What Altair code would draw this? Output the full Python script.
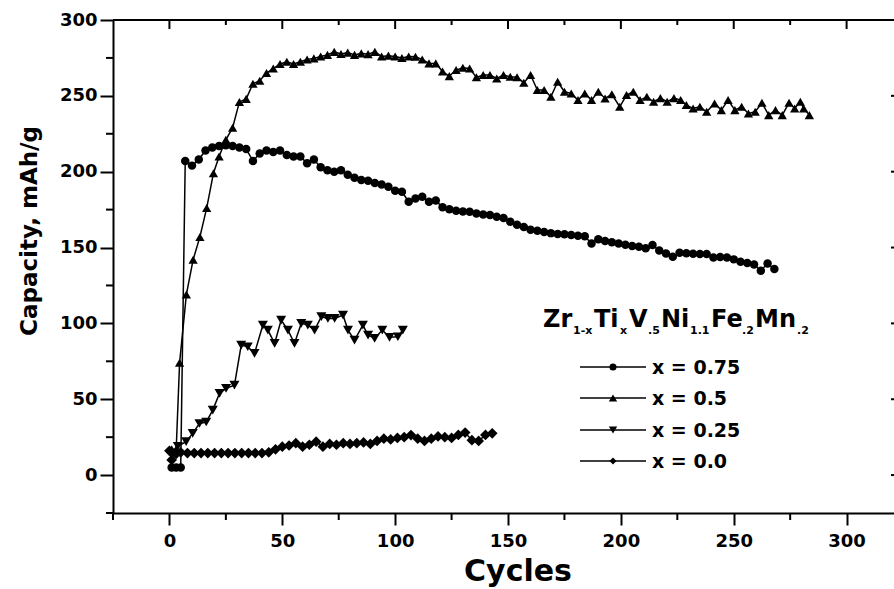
import altair as alt
import pandas as pd

# ---------------- data ----------------
series_names = ["x = 0.75", "x = 0.5", "x = 0.25", "x = 0.0"]
series_shapes = ["circle", "triangle-up", "triangle-down", "diamond"]

cyc_075 = [1, 3, 5, 7, 10, 13, 16, 19, 22, 25, 28, 31, 34, 37, 40, 43, 46, 49, 52, 55,
           58, 61, 64, 67, 70, 73, 76, 79, 82, 85, 88, 91, 94, 97, 100, 103, 106, 109, 112, 115,
           118, 121, 124, 127, 130, 133, 136, 139, 142, 145, 148, 151, 154, 157, 160, 163, 166, 169, 172, 175,
           178, 181, 184, 187, 190, 193, 196, 199, 202, 205, 208, 211, 214, 217, 220, 223, 226, 229, 232, 235,
           238, 241, 244, 247, 250, 253, 256, 259, 262, 265, 268]
cap_075 = [5, 5, 5, 207, 204, 208, 214, 216, 217, 217.5,
           217, 216, 215, 207, 212, 214, 213, 214, 211, 210,
           210, 205.5, 208, 203, 201, 200, 201, 198, 196, 194.5,
           194, 192.5, 191.5, 190, 187.5, 186.8, 180.2, 182.4, 183.5, 180.2,
           181, 176.5, 175.2, 174.3, 173.8, 173.6, 172.5, 171.8, 171.4, 170.3,
           169.5, 167, 165, 163.5, 161.8, 161, 160.3, 159.5, 159, 158.7,
           158.3, 157.8, 157.5, 152.7, 155.4, 154.3, 153.5, 152.7, 151.8, 151,
           150.5, 149.5, 151.6, 148, 146, 144, 146.5, 146.2, 145.9, 145.7,
           145.7, 143.5, 143.8, 143.5, 142.2, 140.6, 139.8, 138.8, 134.7, 139.5, 135.8]

cyc_05 = [1, 3, 4.5, 7.5, 10.5, 13.5, 16.5, 19.5, 22, 25,
          28, 31, 34, 37, 40, 43, 46, 49, 52, 55,
          58, 61, 64, 67, 70, 73, 76, 79, 82, 85,
          88, 91, 94, 97, 100, 103, 106, 109, 112, 115,
          118, 121, 124, 127, 130, 133, 136, 139, 142, 145,
          148, 151, 154, 157, 160, 163, 166, 169, 172, 175,
          178, 181, 184, 187, 190, 193, 196, 199.5, 202.5, 205.5,
          208.5, 211.5, 214.5, 217.5, 220.5, 223.5, 226.5, 229, 232, 235,
          238, 241.5, 244.5, 247.5, 250.5, 253.5, 256.5, 259.5, 262.5, 265.5,
          268.5, 271.5, 274.5, 277, 279.5, 281, 283.5]
cap_05 = [17, 17, 74, 119, 142, 157, 176, 199, 210, 221,
          229, 246, 248, 258, 260, 265, 268, 271, 272.5, 271,
          272.5, 274, 274.7, 276, 277, 279, 277.6, 278.5, 277, 278,
          277.5, 279, 276, 276.5, 276, 275, 276, 275.8, 274, 271.4,
          271.4, 266, 263, 267, 268.5, 268, 262.2, 263.7, 263.7, 261.5,
          263.7, 262.6, 262.2, 258.7, 263.7, 253.8, 253.8, 249.4, 259.3, 252.7,
          251.6, 247.2, 251.6, 247.2, 252.7, 248.3, 251, 242.8, 250.5, 252.7,
          247.2, 249.4, 246.1, 248.5, 246.1, 248.5, 247.2, 243.9, 241.7, 242.8,
          239.5, 245, 240.6, 247.2, 240.6, 242.8, 238.4, 239.5, 245.4, 237.3,
          240.6, 237.3, 245.4, 241.7, 246.1, 241.7, 237.3]

cyc_025 = [1, 3.7, 7.4, 10.3, 13.3, 16.3, 19.2, 22.2, 25.1, 28.8,
           31.8, 34.7, 37.7, 41.4, 43.6, 46.6, 49.5, 52.5, 55.4, 58.4,
           61.3, 64.3, 67.3, 70.2, 73.2, 76.9, 79.1, 82, 85.7, 88,
           90.9, 94.3, 97.5, 101.2, 103.4]
cap_025 = [14, 19, 22, 27.5, 34, 35, 42.8, 53.9, 57.2, 59.3,
           85.7, 84.6, 80.2, 98.9, 95.6, 86.8, 102.2, 95.6, 86.8, 100,
           98.9, 95.6, 104.4, 103.3, 103.3, 105.5, 95.6, 89, 98.9, 92.3,
           90.1, 95.6, 90.8, 91.2, 95.6]

cyc_00 = [0, 1, 3, 5, 8, 11, 14, 17, 20, 23,
          26, 29, 32, 35, 38, 41, 44, 47, 50, 53,
          56, 59, 62, 65, 68, 71, 74, 77, 80, 83,
          86, 89, 92, 95, 98, 101, 104, 107, 110, 113,
          116, 119, 122, 125, 128, 131, 134, 137, 140, 143]
cap_00 = [16, 10, 14, 15, 14.5, 14.5, 14.5, 14.5, 14.5, 14.5,
          14.5, 14.5, 14.5, 14.5, 14.5, 14.5, 15, 17, 18.7, 19.5,
          21, 18.7, 20, 22, 18.7, 20.5, 20, 21, 20.5, 21,
          21.5, 20.5, 22.5, 24, 23.5, 24.5, 25, 26.4, 24, 22.5,
          24, 25.5, 25, 24.5, 26.5, 28, 23, 22.5, 26.5, 27.5]

x_major = [0, 50, 100, 150, 200, 250, 300]
x_minor = [-25, 25, 75, 125, 175, 225, 275]
y_major = [0, 50, 100, 150, 200, 250, 300]
y_minor = [-25, 25, 75, 125, 175, 225, 275]

title_parts = ["Zr", "1-x", "Ti", "x", "V", ".5", "Ni", "1.1", "Fe", ".2", "Mn", ".2"]

# ---------------- build tables ----------------
frames = []
for name, c, v in zip(series_names, [cyc_075, cyc_05, cyc_025, cyc_00],
                      [cap_075, cap_05, cap_025, cap_00]):
    frames.append(pd.DataFrame({"cycle": c, "capacity": v, "series": name}))
df = pd.concat(frames, ignore_index=True)

FONT = "DejaVu Sans"
W, H = 781, 493
xs = alt.Scale(domain=[-25, 321], nice=False, zero=False)
ys = alt.Scale(domain=[-25, 300], nice=False, zero=False)
xa = alt.Axis(values=x_major, title=None, grid=False, tickSize=12, tickWidth=2,
              domainWidth=2, domainColor="black", tickColor="black",
              labelFont=FONT, labelFontSize=18, labelFontWeight="bold",
              labelColor="black", labelPadding=7)
ya = alt.Axis(values=y_major, title=None, grid=False, tickSize=13, tickWidth=2,
              domainWidth=2, domainColor="black", tickColor="black",
              labelFont=FONT, labelFontSize=18, labelFontWeight="bold",
              labelColor="black", labelPadding=3)
shape_scale = alt.Scale(domain=series_names, range=series_shapes)
size_scale = alt.Scale(domain=series_names, range=[72, 115, 115, 70])

base = alt.Chart(df)

lines = base.mark_line(color="black", strokeWidth=1.5).encode(
    x=alt.X("cycle:Q", scale=xs, axis=xa),
    y=alt.Y("capacity:Q", scale=ys, axis=ya),
    detail="series:N",
)

points = base.mark_point(filled=True, color="black", opacity=1).encode(
    x=alt.X("cycle:Q", scale=xs, axis=xa),
    y=alt.Y("capacity:Q", scale=ys, axis=ya),
    shape=alt.Shape("series:N", scale=shape_scale, legend=None),
    size=alt.Size("series:N", scale=size_scale, legend=None),
)

# minor / inner ticks
xmin_df = pd.DataFrame({"cycle": x_minor})
ymin_df = pd.DataFrame({"capacity": y_minor})
ymaj_df = pd.DataFrame({"capacity": y_major})
topmaj_df = pd.DataFrame({"cycle": x_major})
topmin_df = pd.DataFrame({"cycle": x_minor[1:]})

bottom_minor = alt.Chart(xmin_df).mark_rule(color="black", strokeWidth=2).encode(
    x=alt.X("cycle:Q", scale=xs, axis=xa), y=alt.value(H), y2=alt.value(H + 7))
left_minor = alt.Chart(ymin_df).mark_rule(color="black", strokeWidth=2).encode(
    y=alt.Y("capacity:Q", scale=ys, axis=ya), x=alt.value(-7), x2=alt.value(0))
top_major = alt.Chart(topmaj_df).mark_rule(color="black", strokeWidth=2).encode(
    x=alt.X("cycle:Q", scale=xs, axis=xa), y=alt.value(0), y2=alt.value(9))
top_minor = alt.Chart(topmin_df).mark_rule(color="black", strokeWidth=2).encode(
    x=alt.X("cycle:Q", scale=xs, axis=xa), y=alt.value(0), y2=alt.value(5))
right_ticks = alt.Chart(ymaj_df).mark_rule(color="black", strokeWidth=2).encode(
    y=alt.Y("capacity:Q", scale=ys, axis=ya), x=alt.value(W - 3), x2=alt.value(W))
top_line = alt.Chart(pd.DataFrame({"a": [0]})).mark_rule(color="black", strokeWidth=2).encode(
    x=alt.value(0), x2=alt.value(W), y=alt.value(0))

# axis titles
ytitle = alt.Chart(pd.DataFrame({"t": ["Capacity, mAh/g"]})).mark_text(
    font=FONT, fontSize=23, fontWeight="bold", angle=270, align="center", baseline="middle",
    color="black").encode(text="t:N", x=alt.value(-83), y=alt.value(211))
xtitle = alt.Chart(pd.DataFrame({"t": ["Cycles"]})).mark_text(
    font=FONT, fontSize=30, fontWeight="bold", align="center", baseline="alphabetic",
    color="black").encode(text="t:N", x=alt.value(405), y=alt.value(H + 68))

# legend
legend_layers = []
row_y = [347, 378, 410, 441]
for name, shp, ry in zip(series_names, series_shapes, row_y):
    ldf = pd.DataFrame({"series": [name]})
    legend_layers.append(alt.Chart(ldf).mark_rule(color="black", strokeWidth=1.5).encode(
        x=alt.value(467), x2=alt.value(533), y=alt.value(ry)))
    legend_layers.append(alt.Chart(ldf).mark_point(
        filled=True, color="black", opacity=1, shape=shp,
        size=50 if shp in ("circle", "diamond") else 70).encode(
        x=alt.value(500), y=alt.value(ry)))
    legend_layers.append(alt.Chart(ldf).mark_text(
        font=FONT, fontSize=19, fontWeight="bold", align="left", baseline="middle",
        color="black").encode(text="series:N", x=alt.value(539), y=alt.value(ry + 1)))

# legend title with subscripts
title_x = [430, 460, 481, 507, 516, 535, 548, 577, 598, 629, 642, 684]
for i, (part, tx) in enumerate(zip(title_parts, title_x)):
    sub = i % 2 == 1
    legend_layers.append(alt.Chart(pd.DataFrame({"t": [part]})).mark_text(
        font=FONT, fontSize=11 if sub else 24, fontWeight="bold", align="left",
        baseline="alphabetic", color="black").encode(
        text="t:N", x=alt.value(tx), y=alt.value(314 if sub else 307)))

chart = alt.layer(
    lines, points, bottom_minor, left_minor, top_major, top_minor, right_ticks, top_line,
    ytitle, xtitle, *legend_layers
).properties(
    width=W, height=H,
    autosize=alt.AutoSizeParams(type="none"),
    padding={"left": 113, "top": 20, "right": 0, "bottom": 76},
).configure_view(stroke=None).configure(background="white")

chart.save("out.html", embed_options={"renderer": "svg", "actions": False})
